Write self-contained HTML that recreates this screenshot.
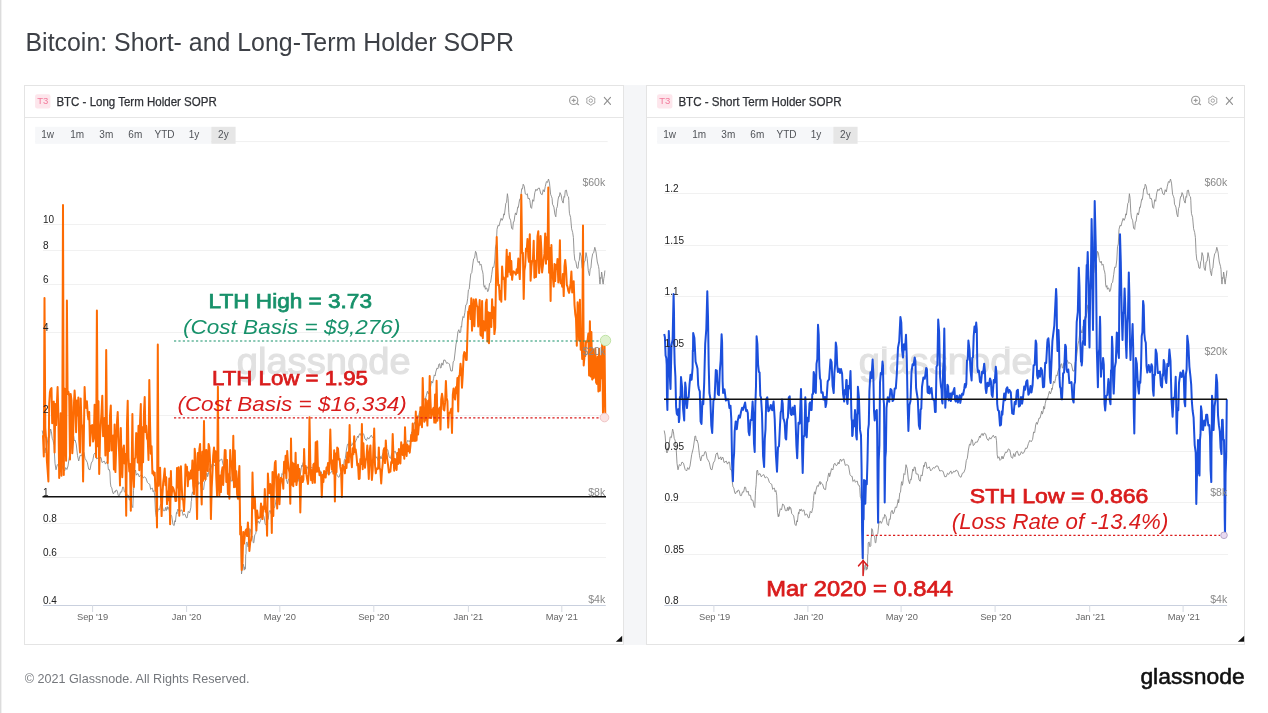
<!DOCTYPE html>
<html><head><meta charset="utf-8"><title>Bitcoin: Short- and Long-Term Holder SOPR</title>
<style>
html,body{margin:0;padding:0;background:#fff;}
body{width:1268px;height:713px;overflow:hidden;position:relative;font-family:"Liberation Sans",Arial,sans-serif;}
#edge{position:absolute;left:0;top:0;width:1px;height:713px;background:#dcdcdc;}
#edge2{position:absolute;left:1px;top:0;width:1px;height:713px;background:#f1f1f1;}
#wrap{position:absolute;left:24px;top:85px;width:1221px;height:560px;background:#f5f6f8;}
.panel{position:absolute;top:85px;height:560px;background:#fff;border:1px solid #e4e4e4;box-sizing:border-box;}
.hdr{position:absolute;left:0;top:0;right:0;height:32px;border-bottom:1px solid #e6e6e6;box-sizing:border-box;}
svg{position:absolute;left:0;top:0;}
text{font-family:"Liberation Sans",Arial,sans-serif;}
.title{font-size:25px;fill:#3d4046;}
.ptitle{font-size:12px;fill:#2f3136;stroke:#2f3136;stroke-width:0.25px;}
.badge{font-size:9.5px;fill:#f27a9b;}
.rng{font-size:10px;fill:#505358;text-anchor:middle;}
.yl{font-size:10px;fill:#222;}
.pl{font-size:10.5px;fill:#888;text-anchor:end;}
.xl{font-size:9.3px;fill:#666;text-anchor:middle;}
.wm{font-size:37px;fill:#e1e1e1;stroke:#e1e1e1;stroke-width:1.1px;}
.ab{font-weight:normal;stroke-width:0.75px;}
.foot{font-size:13px;fill:#74777c;}
.logo{font-size:21.5px;fill:#111;stroke:#111;stroke-width:0.55px;}
</style></head>
<body>
<div id="edge"></div><div id="edge2"></div>
<div id="wrap"></div>
<div class="panel" style="left:24px;width:600px;"><div class="hdr"></div></div>
<div class="panel" style="left:646px;width:599px;"><div class="hdr"></div></div>
<svg width="1268" height="713" viewBox="0 0 1268 713">
<text x="25.5" y="51" class="title" textLength="488.5" lengthAdjust="spacingAndGlyphs">Bitcoin: Short- and Long-Term Holder SOPR</text>
<rect x="35.1" y="94.3" width="15.3" height="14.2" rx="2" fill="#fde6ec"/>
<text x="37.3" y="104.2" class="badge">T3</text>
<text x="56.4" y="106.3" class="ptitle" textLength="160.3" lengthAdjust="spacingAndGlyphs">BTC - Long Term Holder SOPR</text>
<g fill="none" stroke="#9a9a9a" stroke-width="1.1" stroke-linecap="round"><circle cx="573.7" cy="100.4" r="4.1"/><line x1="576.6" y1="103.3" x2="578.6" y2="104.7"/><line x1="572.2" y1="100.4" x2="575.2" y2="100.4"/><line x1="573.7" y1="98.9" x2="573.7" y2="101.9"/></g>
<g fill="none" stroke="#a4a4a4" stroke-width="1.0" stroke-linejoin="round"><polygon points="590.80,95.90 592.75,97.22 594.87,98.25 594.70,100.60 594.87,102.95 592.75,103.98 590.80,105.30 588.85,103.98 586.73,102.95 586.90,100.60 586.73,98.25 588.85,97.22"/><circle cx="590.8" cy="100.6" r="1.7"/></g>
<g stroke="#8f8f8f" stroke-width="1.1" stroke-linecap="round"><line x1="604.3" y1="97.3" x2="610.5" y2="104.3"/><line x1="610.5" y1="97.3" x2="604.3" y2="104.3"/></g>
<line x1="35.0" y1="141.6" x2="607.7" y2="141.6" stroke="#f0f0f0" stroke-width="1"/>
<rect x="35.2" y="126.8" width="176" height="17" fill="#f6f7f9"/>
<rect x="211.3" y="126.8" width="24.3" height="17" fill="#e6e6e6"/>
<text x="47.6" y="138.2" class="rng">1w</text>
<text x="77.2" y="138.2" class="rng">1m</text>
<text x="106.3" y="138.2" class="rng">3m</text>
<text x="135.3" y="138.2" class="rng">6m</text>
<text x="164.5" y="138.2" class="rng">YTD</text>
<text x="194.0" y="138.2" class="rng">1y</text>
<text x="223.4" y="138.2" class="rng">2y</text>
<polygon points="615.8,641.8 622.2,641.8 622.2,635.8" fill="#111"/>
<rect x="657.1" y="94.3" width="15.3" height="14.2" rx="2" fill="#fde6ec"/>
<text x="659.3" y="104.2" class="badge">T3</text>
<text x="678.4" y="106.3" class="ptitle" textLength="163.3" lengthAdjust="spacingAndGlyphs">BTC - Short Term Holder SOPR</text>
<g fill="none" stroke="#9a9a9a" stroke-width="1.1" stroke-linecap="round"><circle cx="1195.7" cy="100.4" r="4.1"/><line x1="1198.6" y1="103.3" x2="1200.6" y2="104.7"/><line x1="1194.2" y1="100.4" x2="1197.2" y2="100.4"/><line x1="1195.7" y1="98.9" x2="1195.7" y2="101.9"/></g>
<g fill="none" stroke="#a4a4a4" stroke-width="1.0" stroke-linejoin="round"><polygon points="1212.80,95.90 1214.75,97.22 1216.87,98.25 1216.70,100.60 1216.87,102.95 1214.75,103.98 1212.80,105.30 1210.85,103.98 1208.73,102.95 1208.90,100.60 1208.73,98.25 1210.85,97.22"/><circle cx="1212.8" cy="100.6" r="1.7"/></g>
<g stroke="#8f8f8f" stroke-width="1.1" stroke-linecap="round"><line x1="1226.3" y1="97.3" x2="1232.5" y2="104.3"/><line x1="1232.5" y1="97.3" x2="1226.3" y2="104.3"/></g>
<line x1="657.0" y1="141.6" x2="1229.7" y2="141.6" stroke="#f0f0f0" stroke-width="1"/>
<rect x="657.2" y="126.8" width="176" height="17" fill="#f6f7f9"/>
<rect x="833.3" y="126.8" width="24.3" height="17" fill="#e6e6e6"/>
<text x="669.6" y="138.2" class="rng">1w</text>
<text x="699.2" y="138.2" class="rng">1m</text>
<text x="728.3" y="138.2" class="rng">3m</text>
<text x="757.3" y="138.2" class="rng">6m</text>
<text x="786.5" y="138.2" class="rng">YTD</text>
<text x="816.0" y="138.2" class="rng">1y</text>
<text x="845.4" y="138.2" class="rng">2y</text>
<polygon points="1237.8,641.8 1244.2,641.8 1244.2,635.8" fill="#111"/>
<text x="236.7" y="373.5" class="wm" textLength="174" lengthAdjust="spacingAndGlyphs">glassnode</text>
<text x="858.7" y="373.5" class="wm" textLength="174" lengthAdjust="spacingAndGlyphs">glassnode</text>
<line x1="43" y1="557.5" x2="606" y2="557.5" stroke="#f1f1f1" stroke-width="1"/>
<line x1="43" y1="523.5" x2="606" y2="523.5" stroke="#f1f1f1" stroke-width="1"/>
<line x1="43" y1="415.5" x2="606" y2="415.5" stroke="#f1f1f1" stroke-width="1"/>
<line x1="43" y1="332.5" x2="606" y2="332.5" stroke="#f1f1f1" stroke-width="1"/>
<line x1="43" y1="284.5" x2="606" y2="284.5" stroke="#f1f1f1" stroke-width="1"/>
<line x1="43" y1="250.5" x2="606" y2="250.5" stroke="#f1f1f1" stroke-width="1"/>
<line x1="43" y1="224.5" x2="606" y2="224.5" stroke="#f1f1f1" stroke-width="1"/>
<line x1="664" y1="554.5" x2="1228" y2="554.5" stroke="#f1f1f1" stroke-width="1"/>
<line x1="664" y1="502.5" x2="1228" y2="502.5" stroke="#f1f1f1" stroke-width="1"/>
<line x1="664" y1="451.5" x2="1228" y2="451.5" stroke="#f1f1f1" stroke-width="1"/>
<line x1="664" y1="348.5" x2="1228" y2="348.5" stroke="#f1f1f1" stroke-width="1"/>
<line x1="664" y1="296.5" x2="1228" y2="296.5" stroke="#f1f1f1" stroke-width="1"/>
<line x1="664" y1="245.5" x2="1228" y2="245.5" stroke="#f1f1f1" stroke-width="1"/>
<line x1="664" y1="193.5" x2="1228" y2="193.5" stroke="#f1f1f1" stroke-width="1"/>
<line x1="43.0" y1="605.5" x2="605.8" y2="605.5" stroke="#c9d0de" stroke-width="1"/>
<line x1="92.6" y1="605" x2="92.6" y2="612" stroke="#d6dae2" stroke-width="1"/>
<line x1="186.6" y1="605" x2="186.6" y2="612" stroke="#d6dae2" stroke-width="1"/>
<line x1="279.8" y1="605" x2="279.8" y2="612" stroke="#d6dae2" stroke-width="1"/>
<line x1="373.8" y1="605" x2="373.8" y2="612" stroke="#d6dae2" stroke-width="1"/>
<line x1="468.4" y1="605" x2="468.4" y2="612" stroke="#d6dae2" stroke-width="1"/>
<line x1="561.8" y1="605" x2="561.8" y2="612" stroke="#d6dae2" stroke-width="1"/>
<line x1="664.3" y1="605.5" x2="1227.1" y2="605.5" stroke="#c9d0de" stroke-width="1"/>
<line x1="713.9" y1="605" x2="713.9" y2="612" stroke="#d6dae2" stroke-width="1"/>
<line x1="807.9" y1="605" x2="807.9" y2="612" stroke="#d6dae2" stroke-width="1"/>
<line x1="901.1" y1="605" x2="901.1" y2="612" stroke="#d6dae2" stroke-width="1"/>
<line x1="995.1" y1="605" x2="995.1" y2="612" stroke="#d6dae2" stroke-width="1"/>
<line x1="1089.7" y1="605" x2="1089.7" y2="612" stroke="#d6dae2" stroke-width="1"/>
<line x1="1183.1" y1="605" x2="1183.1" y2="612" stroke="#d6dae2" stroke-width="1"/>
<path d="M42.2 430.5 L43.1 435.1 L44.1 448.8 L45.0 453.0 L45.7 447.9 L46.3 450.4 L47.0 445.0 L48.2 436.8 L49.4 437.6 L50.6 429.0 L51.4 431.7 L52.2 438.3 L53.0 440.0 L54.0 445.5 L55.0 463.3 L56.0 469.8 L57.3 464.6 L58.7 465.7 L60.0 462.0 L61.5 463.2 L63.1 469.4 L64.6 471.0 L65.7 467.6 L66.9 469.5 L68.0 466.0 L69.7 454.6 L71.3 448.1 L73.0 436.0 L73.7 436.1 L74.3 441.0 L75.0 440.0 L76.2 443.8 L77.5 455.6 L78.7 461.0 L80.1 455.3 L81.6 455.8 L83.0 451.5 L84.0 452.2 L85.0 458.3 L86.0 460.0 L87.3 462.4 L88.7 469.2 L90.0 469.8 L91.3 463.0 L92.7 460.8 L94.0 454.0 L95.3 452.8 L96.7 459.0 L98.0 458.0 L98.7 456.8 L99.3 460.0 L100.0 457.7 L101.0 457.4 L102.0 462.5 L103.0 462.0 L104.2 461.0 L105.5 464.1 L106.7 461.9 L107.6 462.2 L108.4 469.7 L109.3 469.5 L109.9 472.0 L110.4 483.0 L111.0 487.0 L111.8 487.8 L112.7 492.7 L113.5 493.9 L114.3 491.6 L115.2 492.2 L116.0 490.0 L117.1 490.5 L118.3 495.6 L119.4 495.6 L120.5 491.9 L121.6 492.1 L122.7 487.0 L123.6 487.3 L124.4 491.8 L125.3 492.2 L126.1 491.0 L127.0 495.6 L127.8 495.0 L128.5 495.3 L129.3 500.0 L130.0 500.0 L130.9 500.3 L131.9 506.0 L132.8 507.6 L133.5 490.4 L134.1 484.8 L134.8 471.0 L135.5 470.0 L136.3 475.2 L137.0 474.0 L138.1 473.7 L139.3 476.9 L140.4 475.4 L141.8 474.6 L143.2 478.0 L144.6 476.8 L146.0 478.3 L147.4 482.4 L148.8 483.8 L149.7 484.2 L150.7 489.4 L151.6 488.4 L152.4 488.1 L153.1 491.8 L153.9 490.5 L154.7 495.2 L155.5 512.2 L156.3 516.8 L156.6 514.6 L156.9 516.3 L157.2 514.0 L158.3 508.7 L159.5 509.9 L160.6 504.0 L162.0 505.2 L163.4 510.7 L164.8 510.7 L165.5 507.4 L166.2 510.7 L166.9 507.3 L167.3 506.6 L167.8 509.4 L168.2 507.3 L169.0 508.7 L169.7 513.5 L170.5 514.4 L171.7 515.9 L173.0 524.7 L174.2 525.5 L174.8 520.7 L175.4 522.0 L176.0 516.0 L176.5 512.4 L176.9 513.8 L177.4 510.7 L177.9 509.2 L178.3 511.0 L178.8 509.7 L179.5 509.2 L180.1 511.3 L180.8 510.7 L181.9 509.9 L183.1 515.4 L184.2 514.0 L185.1 514.3 L186.1 517.5 L187.0 518.0 L188.3 511.4 L189.6 512.9 L190.9 507.3 L191.2 501.5 L191.5 500.9 L191.8 495.5 L192.5 491.8 L193.3 494.2 L194.0 490.0 L195.2 485.6 L196.4 486.4 L197.6 482.0 L198.0 481.4 L198.5 484.4 L198.9 482.5 L200.5 484.0 L202.0 489.0 L203.6 489.6 L204.5 481.7 L205.4 481.2 L206.3 475.0 L207.0 472.9 L207.6 476.7 L208.3 474.2 L209.5 468.6 L210.8 470.0 L212.0 464.0 L213.1 463.4 L214.3 465.8 L215.4 464.7 L216.2 462.2 L217.0 464.0 L217.8 460.2 L218.6 459.0 L219.4 461.4 L220.2 460.0 L221.8 459.0 L223.3 465.4 L224.9 464.7 L226.5 465.6 L228.0 474.6 L229.6 476.6 L230.2 476.4 L230.9 481.6 L231.5 481.0 L232.5 479.7 L233.4 482.3 L234.4 481.3 L235.3 481.1 L236.1 484.8 L237.0 485.0 L237.7 487.5 L238.3 496.8 L239.0 497.9 L239.5 501.4 L240.0 515.6 L240.5 520.0 L240.8 533.8 L241.2 559.5 L241.5 574.0 L242.0 569.9 L242.5 569.4 L243.0 565.0 L243.5 564.3 L244.1 570.2 L244.6 569.3 L244.9 566.8 L245.2 569.2 L245.5 566.0 L245.7 554.8 L246.0 553.7 L246.2 542.8 L247.1 541.9 L247.9 546.8 L248.8 545.8 L249.1 538.1 L249.4 537.2 L249.7 528.6 L250.5 529.7 L251.2 535.3 L252.0 536.0 L252.6 536.0 L253.2 542.7 L253.8 542.8 L254.8 534.6 L255.8 533.8 L256.8 523.9 L258.1 520.9 L259.3 523.4 L260.6 520.5 L261.3 517.6 L262.0 518.3 L262.7 514.4 L264.0 516.7 L265.2 524.3 L266.5 525.6 L267.3 519.0 L268.2 519.4 L269.0 512.0 L270.1 510.3 L271.1 513.9 L272.2 512.0 L273.4 507.0 L274.6 507.6 L275.8 502.0 L276.2 499.5 L276.6 502.9 L277.0 500.2 L277.8 492.8 L278.5 492.3 L279.3 483.7 L279.8 481.6 L280.3 485.3 L280.8 483.5 L281.9 473.6 L282.9 474.6 L284.0 464.7 L285.2 468.6 L286.4 479.9 L287.6 483.7 L288.4 479.2 L289.2 479.9 L290.0 474.0 L290.8 469.0 L291.5 471.1 L292.3 467.0 L293.2 467.2 L294.1 473.9 L295.0 474.0 L296.1 474.2 L297.1 480.0 L298.2 481.3 L299.1 474.9 L300.1 476.0 L301.0 470.0 L301.7 465.3 L302.3 466.6 L303.0 462.4 L304.0 462.3 L305.0 468.4 L306.0 468.0 L307.3 466.8 L308.7 470.9 L310.0 469.5 L311.3 467.5 L312.7 468.2 L314.0 466.0 L315.8 466.0 L317.7 471.0 L319.5 470.6 L321.1 471.4 L322.7 476.7 L324.3 476.6 L325.5 473.2 L326.8 474.4 L328.0 472.0 L328.9 470.9 L329.7 473.7 L330.6 473.0 L331.7 471.2 L332.9 472.0 L334.0 470.0 L335.7 471.0 L337.3 476.1 L339.0 477.3 L340.4 473.2 L341.8 472.6 L343.2 468.9 L344.3 460.3 L345.3 458.4 L346.4 450.0 L347.5 444.2 L348.5 445.1 L349.6 439.4 L350.4 440.0 L351.2 445.6 L352.0 445.0 L353.6 442.0 L355.3 442.2 L356.9 438.4 L357.6 436.0 L358.3 437.6 L359.0 435.0 L360.1 433.4 L361.1 435.7 L362.2 433.0 L363.6 433.9 L365.0 438.9 L366.4 440.5 L367.6 437.5 L368.8 439.1 L370.0 437.0 L371.3 435.2 L372.5 437.7 L373.8 436.2 L374.5 440.8 L375.2 454.8 L375.9 458.3 L376.9 456.7 L378.0 460.4 L379.0 459.4 L380.0 456.1 L381.0 459.0 L382.0 456.0 L383.5 452.1 L384.9 452.4 L386.4 448.9 L387.8 449.9 L389.2 457.2 L390.6 458.3 L391.7 453.6 L392.9 456.7 L394.0 452.0 L395.3 451.2 L396.7 455.3 L398.0 455.0 L399.4 451.7 L400.8 453.7 L402.2 452.0 L403.6 448.1 L405.0 448.4 L406.4 443.6 L407.8 440.3 L409.2 441.8 L410.6 439.4 L411.6 432.0 L412.7 432.7 L413.7 424.7 L414.5 422.4 L415.2 424.4 L416.0 422.0 L417.0 418.1 L418.0 418.2 L419.0 414.2 L419.7 411.1 L420.3 414.1 L421.0 412.0 L421.7 406.4 L422.5 409.1 L423.2 403.6 L424.3 398.7 L425.3 399.4 L426.4 395.2 L427.4 391.3 L428.4 394.0 L429.4 391.0 L429.8 388.1 L430.2 389.5 L430.6 386.8 L431.6 381.2 L432.6 383.1 L433.6 378.4 L434.3 374.9 L435.1 375.9 L435.8 372.0 L436.9 368.2 L437.9 368.8 L439.0 364.0 L439.7 363.8 L440.3 367.9 L441.0 368.0 L441.9 362.9 L442.9 365.2 L443.8 360.0 L445.2 360.2 L446.6 363.4 L448.0 362.7 L449.4 364.1 L450.9 371.0 L452.3 371.0 L453.2 361.9 L454.1 360.7 L455.0 353.0 L456.0 344.1 L456.9 340.5 L457.9 331.9 L458.8 329.7 L459.8 333.0 L460.7 331.9 L461.1 326.4 L461.6 327.2 L462.0 322.0 L463.0 316.5 L463.9 317.7 L464.9 312.3 L465.8 304.9 L466.8 304.2 L467.7 298.2 L468.4 289.9 L469.2 289.2 L469.9 282.0 L470.8 273.9 L471.8 272.6 L472.7 265.0 L473.6 258.8 L474.6 258.1 L475.5 251.3 L476.4 253.1 L477.4 260.5 L478.3 262.6 L479.2 261.2 L480.1 265.3 L481.0 264.2 L481.5 265.6 L482.0 270.0 L482.5 271.0 L483.1 274.3 L483.7 285.2 L484.3 287.3 L484.9 285.5 L485.4 289.3 L486.0 288.0 L486.8 288.1 L487.7 291.7 L488.5 290.5 L489.6 283.2 L490.6 282.4 L491.7 274.7 L492.7 267.1 L493.8 267.4 L494.8 260.0 L495.5 246.8 L496.3 244.0 L497.0 229.4 L498.0 225.3 L499.0 226.1 L500.0 222.0 L501.1 218.4 L502.1 220.4 L503.2 217.9 L503.8 213.8 L504.4 215.1 L505.0 210.0 L505.8 203.4 L506.6 202.2 L507.4 193.7 L508.1 198.5 L508.8 212.3 L509.5 217.9 L510.6 220.2 L511.6 228.2 L512.7 229.4 L513.4 221.8 L514.1 221.6 L514.8 215.8 L515.5 212.9 L516.3 215.0 L517.0 212.0 L517.7 207.1 L518.3 207.6 L519.0 203.1 L519.7 199.2 L520.3 199.7 L521.0 195.0 L521.7 188.7 L522.5 188.9 L523.2 184.2 L524.3 186.3 L525.3 193.9 L526.4 194.7 L527.3 193.7 L528.1 198.8 L529.0 198.0 L529.9 200.5 L530.7 207.4 L531.6 208.4 L532.7 199.7 L533.7 201.3 L534.8 192.6 L535.9 189.2 L536.9 190.6 L538.0 188.4 L539.4 188.1 L540.8 193.8 L542.2 194.7 L543.2 189.7 L544.3 191.9 L545.3 186.3 L546.4 181.6 L547.4 182.5 L548.5 179.0 L549.5 183.1 L550.6 194.3 L551.6 196.8 L552.1 198.4 L552.5 204.3 L553.0 205.0 L553.9 207.1 L554.9 214.2 L555.8 216.8 L556.5 208.6 L557.3 206.8 L558.0 200.0 L558.7 196.5 L559.3 196.6 L560.0 192.6 L561.1 195.0 L562.1 200.6 L563.2 203.1 L563.9 196.6 L564.6 197.3 L565.3 190.5 L566.4 190.1 L567.4 195.8 L568.5 196.8 L568.8 200.3 L569.2 209.9 L569.5 213.7 L570.6 217.3 L571.6 228.7 L572.7 232.6 L573.4 237.5 L574.1 253.3 L574.8 260.0 L575.9 261.8 L576.9 267.9 L578.0 268.4 L578.7 261.7 L579.3 260.4 L580.0 252.6 L581.1 256.2 L582.1 267.9 L583.2 270.5 L584.1 262.0 L585.1 261.2 L586.0 252.6 L587.2 258.3 L588.3 270.8 L589.5 275.7 L590.2 268.8 L590.9 268.1 L591.6 260.0 L592.7 253.6 L593.7 252.8 L594.8 247.3 L596.0 251.9 L597.3 262.0 L598.5 266.3 L599.0 269.3 L599.5 279.7 L600.0 284.1 L600.5 277.5 L601.1 278.4 L601.6 272.0 L602.1 274.9 L602.7 282.5 L603.2 284.1 L603.8 278.4 L604.3 276.3 L604.9 270.5" fill="none" stroke="#8a8a8a" stroke-width="0.9" stroke-linejoin="round"/>
<path d="M664.2 430.5 L665.1 435.1 L666.1 448.8 L667.0 453.0 L667.7 447.9 L668.3 450.4 L669.0 445.0 L670.2 436.8 L671.4 437.6 L672.6 429.0 L673.4 431.7 L674.2 438.3 L675.0 440.0 L676.0 445.5 L677.0 463.3 L678.0 469.8 L679.3 464.6 L680.7 465.7 L682.0 462.0 L683.5 463.2 L685.1 469.4 L686.6 471.0 L687.7 467.6 L688.9 469.5 L690.0 466.0 L691.7 454.6 L693.3 448.1 L695.0 436.0 L695.7 436.1 L696.3 441.0 L697.0 440.0 L698.2 443.8 L699.5 455.6 L700.7 461.0 L702.1 455.3 L703.6 455.8 L705.0 451.5 L706.0 452.2 L707.0 458.3 L708.0 460.0 L709.3 462.4 L710.7 469.2 L712.0 469.8 L713.3 463.0 L714.7 460.8 L716.0 454.0 L717.3 452.8 L718.7 459.0 L720.0 458.0 L720.7 456.8 L721.3 460.0 L722.0 457.7 L723.0 457.4 L724.0 462.5 L725.0 462.0 L726.2 461.0 L727.5 464.1 L728.7 461.9 L729.6 462.2 L730.4 469.7 L731.3 469.5 L731.9 472.0 L732.4 483.0 L733.0 487.0 L733.8 487.8 L734.7 492.7 L735.5 493.9 L736.3 491.6 L737.2 492.2 L738.0 490.0 L739.1 490.5 L740.3 495.6 L741.4 495.6 L742.5 491.9 L743.6 492.1 L744.7 487.0 L745.6 487.3 L746.4 491.8 L747.3 492.2 L748.1 491.0 L749.0 495.6 L749.8 495.0 L750.5 495.3 L751.3 500.0 L752.0 500.0 L752.9 500.3 L753.9 506.0 L754.8 507.6 L755.5 490.4 L756.1 484.8 L756.8 471.0 L757.5 470.0 L758.3 475.2 L759.0 474.0 L760.1 473.7 L761.3 476.9 L762.4 475.4 L763.8 474.6 L765.2 478.0 L766.6 476.8 L768.0 478.3 L769.4 482.4 L770.8 483.8 L771.7 484.2 L772.7 489.4 L773.6 488.4 L774.4 488.1 L775.1 491.8 L775.9 490.5 L776.7 495.2 L777.5 512.2 L778.3 516.8 L778.6 514.6 L778.9 516.3 L779.2 514.0 L780.3 508.7 L781.5 509.9 L782.6 504.0 L784.0 505.2 L785.4 510.7 L786.8 510.7 L787.5 507.4 L788.2 510.7 L788.9 507.3 L789.3 506.6 L789.8 509.4 L790.2 507.3 L791.0 508.7 L791.7 513.5 L792.5 514.4 L793.7 515.9 L795.0 524.7 L796.2 525.5 L796.8 520.7 L797.4 522.0 L798.0 516.0 L798.5 512.4 L798.9 513.8 L799.4 510.7 L799.9 509.2 L800.3 511.0 L800.8 509.7 L801.5 509.2 L802.1 511.3 L802.8 510.7 L803.9 509.9 L805.1 515.4 L806.2 514.0 L807.1 514.3 L808.1 517.5 L809.0 518.0 L810.3 511.4 L811.6 512.9 L812.9 507.3 L813.2 501.5 L813.5 500.9 L813.8 495.5 L814.5 491.8 L815.3 494.2 L816.0 490.0 L817.2 485.6 L818.4 486.4 L819.6 482.0 L820.0 481.4 L820.5 484.4 L820.9 482.5 L822.5 484.0 L824.0 489.0 L825.6 489.6 L826.5 481.7 L827.4 481.2 L828.3 475.0 L829.0 472.9 L829.6 476.7 L830.3 474.2 L831.5 468.6 L832.8 470.0 L834.0 464.0 L835.1 463.4 L836.3 465.8 L837.4 464.7 L838.2 462.2 L839.0 464.0 L839.8 460.2 L840.6 459.0 L841.4 461.4 L842.2 460.0 L843.8 459.0 L845.3 465.4 L846.9 464.7 L848.5 465.6 L850.0 474.6 L851.6 476.6 L852.2 476.4 L852.9 481.6 L853.5 481.0 L854.5 479.7 L855.4 482.3 L856.4 481.3 L857.3 481.1 L858.1 484.8 L859.0 485.0 L859.7 487.5 L860.3 496.8 L861.0 497.9 L861.5 501.4 L862.0 515.6 L862.5 520.0 L862.8 533.8 L863.2 559.5 L863.5 574.0 L864.0 569.9 L864.5 569.4 L865.0 565.0 L865.5 564.3 L866.1 570.2 L866.6 569.3 L866.9 566.8 L867.2 569.2 L867.5 566.0 L867.7 554.8 L868.0 553.7 L868.2 542.8 L869.1 541.9 L869.9 546.8 L870.8 545.8 L871.1 538.1 L871.4 537.2 L871.7 528.6 L872.5 529.7 L873.2 535.3 L874.0 536.0 L874.6 536.0 L875.2 542.7 L875.8 542.8 L876.8 534.6 L877.8 533.8 L878.8 523.9 L880.1 520.9 L881.3 523.4 L882.6 520.5 L883.3 517.6 L884.0 518.3 L884.7 514.4 L886.0 516.7 L887.2 524.3 L888.5 525.6 L889.3 519.0 L890.2 519.4 L891.0 512.0 L892.1 510.3 L893.1 513.9 L894.2 512.0 L895.4 507.0 L896.6 507.6 L897.8 502.0 L898.2 499.5 L898.6 502.9 L899.0 500.2 L899.8 492.8 L900.5 492.3 L901.3 483.7 L901.8 481.6 L902.3 485.3 L902.8 483.5 L903.9 473.6 L904.9 474.6 L906.0 464.7 L907.2 468.6 L908.4 479.9 L909.6 483.7 L910.4 479.2 L911.2 479.9 L912.0 474.0 L912.8 469.0 L913.5 471.1 L914.3 467.0 L915.2 467.2 L916.1 473.9 L917.0 474.0 L918.1 474.2 L919.1 480.0 L920.2 481.3 L921.1 474.9 L922.1 476.0 L923.0 470.0 L923.7 465.3 L924.3 466.6 L925.0 462.4 L926.0 462.3 L927.0 468.4 L928.0 468.0 L929.3 466.8 L930.7 470.9 L932.0 469.5 L933.3 467.5 L934.7 468.2 L936.0 466.0 L937.8 466.0 L939.7 471.0 L941.5 470.6 L943.1 471.4 L944.7 476.7 L946.3 476.6 L947.5 473.2 L948.8 474.4 L950.0 472.0 L950.9 470.9 L951.7 473.7 L952.6 473.0 L953.7 471.2 L954.9 472.0 L956.0 470.0 L957.7 471.0 L959.3 476.1 L961.0 477.3 L962.4 473.2 L963.8 472.6 L965.2 468.9 L966.3 460.3 L967.3 458.4 L968.4 450.0 L969.5 444.2 L970.5 445.1 L971.6 439.4 L972.4 440.0 L973.2 445.6 L974.0 445.0 L975.6 442.0 L977.3 442.2 L978.9 438.4 L979.6 436.0 L980.3 437.6 L981.0 435.0 L982.1 433.4 L983.1 435.7 L984.2 433.0 L985.6 433.9 L987.0 438.9 L988.4 440.5 L989.6 437.5 L990.8 439.1 L992.0 437.0 L993.3 435.2 L994.5 437.7 L995.8 436.2 L996.5 440.8 L997.2 454.8 L997.9 458.3 L998.9 456.7 L1000.0 460.4 L1001.0 459.4 L1002.0 456.1 L1003.0 459.0 L1004.0 456.0 L1005.5 452.1 L1006.9 452.4 L1008.4 448.9 L1009.8 449.9 L1011.2 457.2 L1012.6 458.3 L1013.7 453.6 L1014.9 456.7 L1016.0 452.0 L1017.3 451.2 L1018.7 455.3 L1020.0 455.0 L1021.4 451.7 L1022.8 453.7 L1024.2 452.0 L1025.6 448.1 L1027.0 448.4 L1028.4 443.6 L1029.8 440.3 L1031.2 441.8 L1032.6 439.4 L1033.6 432.0 L1034.7 432.7 L1035.7 424.7 L1036.5 422.4 L1037.2 424.4 L1038.0 422.0 L1039.0 418.1 L1040.0 418.2 L1041.0 414.2 L1041.7 411.1 L1042.3 414.1 L1043.0 412.0 L1043.7 406.4 L1044.5 409.1 L1045.2 403.6 L1046.3 398.7 L1047.3 399.4 L1048.4 395.2 L1049.4 391.3 L1050.4 394.0 L1051.4 391.0 L1051.8 388.1 L1052.2 389.5 L1052.6 386.8 L1053.6 381.2 L1054.6 383.1 L1055.6 378.4 L1056.3 374.9 L1057.1 375.9 L1057.8 372.0 L1058.9 368.2 L1059.9 368.8 L1061.0 364.0 L1061.7 363.8 L1062.3 367.9 L1063.0 368.0 L1063.9 362.9 L1064.9 365.2 L1065.8 360.0 L1067.2 360.2 L1068.6 363.4 L1070.0 362.7 L1071.4 364.1 L1072.9 371.0 L1074.3 371.0 L1075.2 361.9 L1076.1 360.7 L1077.0 353.0 L1078.0 344.1 L1078.9 340.5 L1079.9 331.9 L1080.8 329.7 L1081.8 333.0 L1082.7 331.9 L1083.1 326.4 L1083.6 327.2 L1084.0 322.0 L1085.0 316.5 L1085.9 317.7 L1086.9 312.3 L1087.8 304.9 L1088.8 304.2 L1089.7 298.2 L1090.4 289.9 L1091.2 289.2 L1091.9 282.0 L1092.8 273.9 L1093.8 272.6 L1094.7 265.0 L1095.6 258.8 L1096.6 258.1 L1097.5 251.3 L1098.4 253.1 L1099.4 260.5 L1100.3 262.6 L1101.2 261.2 L1102.1 265.3 L1103.0 264.2 L1103.5 265.6 L1104.0 270.0 L1104.5 271.0 L1105.1 274.3 L1105.7 285.2 L1106.3 287.3 L1106.9 285.5 L1107.4 289.3 L1108.0 288.0 L1108.8 288.1 L1109.7 291.7 L1110.5 290.5 L1111.6 283.2 L1112.6 282.4 L1113.7 274.7 L1114.7 267.1 L1115.8 267.4 L1116.8 260.0 L1117.5 246.8 L1118.3 244.0 L1119.0 229.4 L1120.0 225.3 L1121.0 226.1 L1122.0 222.0 L1123.1 218.4 L1124.1 220.4 L1125.2 217.9 L1125.8 213.8 L1126.4 215.1 L1127.0 210.0 L1127.8 203.4 L1128.6 202.2 L1129.4 193.7 L1130.1 198.5 L1130.8 212.3 L1131.5 217.9 L1132.6 220.2 L1133.6 228.2 L1134.7 229.4 L1135.4 221.8 L1136.1 221.6 L1136.8 215.8 L1137.5 212.9 L1138.3 215.0 L1139.0 212.0 L1139.7 207.1 L1140.3 207.6 L1141.0 203.1 L1141.7 199.2 L1142.3 199.7 L1143.0 195.0 L1143.7 188.7 L1144.5 188.9 L1145.2 184.2 L1146.3 186.3 L1147.3 193.9 L1148.4 194.7 L1149.3 193.7 L1150.1 198.8 L1151.0 198.0 L1151.9 200.5 L1152.7 207.4 L1153.6 208.4 L1154.7 199.7 L1155.7 201.3 L1156.8 192.6 L1157.9 189.2 L1158.9 190.6 L1160.0 188.4 L1161.4 188.1 L1162.8 193.8 L1164.2 194.7 L1165.2 189.7 L1166.3 191.9 L1167.3 186.3 L1168.4 181.6 L1169.4 182.5 L1170.5 179.0 L1171.5 183.1 L1172.6 194.3 L1173.6 196.8 L1174.1 198.4 L1174.5 204.3 L1175.0 205.0 L1175.9 207.1 L1176.9 214.2 L1177.8 216.8 L1178.5 208.6 L1179.3 206.8 L1180.0 200.0 L1180.7 196.5 L1181.3 196.6 L1182.0 192.6 L1183.1 195.0 L1184.1 200.6 L1185.2 203.1 L1185.9 196.6 L1186.6 197.3 L1187.3 190.5 L1188.4 190.1 L1189.4 195.8 L1190.5 196.8 L1190.8 200.3 L1191.2 209.9 L1191.5 213.7 L1192.6 217.3 L1193.6 228.7 L1194.7 232.6 L1195.4 237.5 L1196.1 253.3 L1196.8 260.0 L1197.9 261.8 L1198.9 267.9 L1200.0 268.4 L1200.7 261.7 L1201.3 260.4 L1202.0 252.6 L1203.1 256.2 L1204.1 267.9 L1205.2 270.5 L1206.1 262.0 L1207.1 261.2 L1208.0 252.6 L1209.2 258.3 L1210.3 270.8 L1211.5 275.7 L1212.2 268.8 L1212.9 268.1 L1213.6 260.0 L1214.7 253.6 L1215.7 252.8 L1216.8 247.3 L1218.0 251.9 L1219.3 262.0 L1220.5 266.3 L1221.0 269.3 L1221.5 279.7 L1222.0 284.1 L1222.5 277.5 L1223.1 278.4 L1223.6 272.0 L1224.1 274.9 L1224.7 282.5 L1225.2 284.1 L1225.8 278.4 L1226.3 276.3 L1226.9 270.5" fill="none" stroke="#8a8a8a" stroke-width="0.9" stroke-linejoin="round"/>
<path d="M43.0 435.2 L43.8 456.5 L44.5 298.0 L45.3 428.0 L46.1 438.8 L46.9 460.8 L47.6 469.8 L48.4 481.5 L49.2 403.7 L49.9 392.3 L50.7 389.1 L51.5 388.0 L52.2 423.3 L53.0 401.9 L53.8 401.6 L54.6 452.6 L55.3 403.9 L56.1 425.1 L56.9 403.6 L57.6 387.0 L58.4 416.4 L59.2 478.0 L59.9 458.1 L60.7 413.2 L61.5 475.8 L62.3 429.7 L63.0 205.0 L63.8 475.1 L64.6 388.8 L65.3 420.6 L66.1 460.7 L66.9 300.5 L67.6 393.9 L68.4 391.8 L69.2 396.0 L70.0 459.6 L70.7 394.0 L71.5 400.6 L72.3 453.2 L73.0 442.2 L73.8 407.1 L74.6 390.5 L75.4 403.8 L76.1 432.3 L76.9 400.6 L77.7 415.6 L78.4 397.4 L79.2 439.6 L80.0 452.4 L80.7 398.5 L81.5 424.3 L82.3 425.9 L83.1 481.5 L83.8 439.4 L84.6 387.0 L85.4 405.6 L86.1 408.1 L86.9 401.3 L87.7 413.9 L88.4 419.3 L89.2 411.9 L90.0 445.7 L90.8 430.7 L91.5 425.5 L92.3 425.0 L93.1 441.6 L93.8 438.2 L94.6 404.7 L95.4 415.1 L96.1 457.2 L96.9 310.5 L97.7 446.2 L98.5 401.3 L99.2 474.0 L100.0 438.7 L100.8 423.8 L101.5 412.9 L102.3 395.7 L103.1 436.3 L103.9 420.9 L104.6 418.0 L105.4 455.4 L106.2 350.0 L106.9 424.5 L107.7 463.0 L108.5 425.7 L109.2 451.1 L110.0 415.8 L110.8 405.4 L111.6 450.4 L112.3 442.8 L113.1 435.5 L113.9 469.5 L114.6 424.4 L115.4 472.1 L116.2 447.2 L116.9 423.7 L117.7 412.0 L118.5 436.3 L119.3 458.0 L120.0 485.5 L120.8 427.9 L121.6 462.9 L122.3 477.2 L123.1 449.9 L123.9 445.4 L124.6 463.5 L125.4 454.1 L126.2 515.8 L127.0 423.5 L127.7 400.8 L128.5 457.6 L129.3 471.5 L130.0 464.0 L130.8 510.7 L131.6 474.9 L132.4 414.0 L133.1 470.2 L133.9 487.0 L134.7 458.6 L135.4 457.9 L136.2 433.1 L137.0 434.0 L137.7 462.4 L138.5 425.8 L139.3 470.3 L140.1 420.2 L140.8 404.0 L141.6 489.6 L142.4 427.3 L143.1 462.2 L143.9 414.4 L144.7 397.0 L145.4 432.1 L146.2 425.8 L147.0 438.4 L147.8 440.3 L148.5 460.0 L149.3 380.0 L150.1 425.3 L150.8 453.8 L151.6 446.2 L152.4 473.4 L153.1 471.2 L153.9 475.4 L154.7 472.6 L155.5 490.7 L156.2 486.9 L157.0 527.5 L157.8 344.6 L158.5 485.8 L159.3 475.3 L160.1 467.8 L160.9 494.7 L161.6 516.1 L162.4 495.2 L163.2 482.4 L163.9 477.1 L164.7 468.5 L165.5 485.2 L166.2 477.2 L167.0 504.1 L167.8 491.7 L168.6 500.3 L169.3 478.4 L170.1 524.2 L170.9 471.0 L171.6 496.2 L172.4 486.9 L173.2 488.0 L173.9 490.3 L174.7 494.5 L175.5 501.1 L176.3 500.9 L177.0 467.9 L177.8 487.5 L178.6 467.3 L179.3 515.8 L180.1 480.4 L180.9 466.3 L181.6 483.7 L182.4 499.4 L183.2 500.0 L184.0 511.1 L184.7 497.1 L185.5 464.4 L186.3 475.6 L187.0 466.7 L187.8 486.2 L188.6 472.3 L189.4 479.2 L190.1 478.6 L190.9 470.6 L191.7 478.4 L192.4 460.5 L193.2 485.7 L194.0 494.2 L194.7 448.8 L195.5 458.8 L196.3 488.2 L197.1 519.1 L197.8 453.0 L198.6 470.1 L199.4 448.8 L200.1 444.0 L200.9 479.9 L201.7 504.5 L202.4 451.8 L203.2 480.8 L204.0 421.0 L204.8 478.0 L205.5 479.4 L206.3 449.9 L207.1 461.0 L207.8 471.1 L208.6 444.0 L209.4 447.7 L210.1 461.7 L210.9 519.1 L211.7 488.3 L212.5 472.0 L213.2 455.8 L214.0 447.6 L214.8 461.9 L215.5 451.3 L216.3 477.9 L217.1 495.8 L217.9 386.8 L218.6 479.6 L219.4 495.3 L220.2 475.4 L220.9 492.1 L221.7 472.2 L222.5 467.3 L223.2 484.9 L224.0 467.5 L224.8 449.9 L225.6 450.3 L226.3 481.9 L227.1 460.1 L227.9 494.1 L228.6 474.5 L229.4 498.8 L230.2 450.0 L230.9 464.4 L231.7 461.5 L232.5 479.7 L233.3 435.8 L234.0 487.2 L234.8 450.5 L235.6 486.7 L236.3 471.2 L237.1 494.0 L237.9 498.7 L238.6 478.4 L239.4 465.9 L240.2 534.5 L241.0 526.7 L241.7 570.0 L242.5 562.1 L243.3 531.9 L244.0 543.6 L244.8 535.8 L245.6 530.6 L246.4 529.4 L247.1 536.1 L247.9 522.5 L248.7 534.2 L249.4 551.0 L250.2 542.1 L251.0 540.2 L251.7 533.7 L252.5 472.5 L253.3 506.1 L254.1 508.5 L254.8 496.8 L255.6 515.9 L256.4 530.5 L257.1 510.6 L257.9 516.9 L258.7 518.1 L259.4 517.6 L260.2 517.4 L261.0 503.5 L261.8 513.1 L262.5 519.1 L263.3 506.2 L264.1 508.9 L264.8 489.1 L265.6 511.8 L266.4 510.7 L267.1 535.7 L267.9 473.6 L268.7 488.8 L269.5 493.2 L270.2 483.9 L271.0 489.1 L271.8 533.0 L272.5 471.9 L273.3 516.1 L274.1 477.9 L274.9 462.9 L275.6 461.0 L276.4 486.0 L277.2 508.6 L277.9 477.8 L278.7 474.3 L279.5 504.3 L280.2 486.7 L281.0 477.7 L281.8 481.2 L282.6 479.2 L283.3 488.8 L284.1 461.7 L284.9 472.8 L285.6 455.8 L286.4 478.1 L287.2 451.0 L287.9 461.3 L288.7 468.6 L289.5 472.7 L290.3 503.7 L291.0 438.6 L291.8 484.7 L292.6 462.8 L293.3 486.3 L294.1 464.1 L294.9 481.5 L295.6 452.7 L296.4 485.1 L297.2 479.3 L298.0 464.8 L298.7 477.9 L299.5 468.9 L300.3 512.6 L301.0 482.7 L301.8 476.3 L302.6 482.1 L303.4 479.6 L304.1 448.9 L304.9 472.9 L305.7 466.1 L306.4 474.4 L307.2 479.6 L308.0 484.0 L308.7 474.4 L309.5 417.2 L310.3 463.4 L311.1 480.3 L311.8 470.2 L312.6 483.0 L313.4 464.6 L314.1 463.6 L314.9 482.8 L315.7 442.3 L316.4 471.7 L317.2 441.3 L318.0 471.6 L318.8 467.8 L319.5 475.2 L320.3 472.5 L321.1 475.9 L321.8 497.0 L322.6 474.9 L323.4 482.0 L324.1 471.0 L324.9 475.7 L325.7 477.5 L326.5 467.6 L327.2 470.7 L328.0 463.1 L328.8 474.4 L329.5 461.6 L330.3 429.6 L331.1 458.8 L331.9 469.6 L332.6 460.4 L333.4 473.6 L334.2 450.2 L334.9 501.4 L335.7 453.4 L336.5 472.1 L337.2 447.5 L338.0 448.6 L338.8 459.6 L339.6 458.9 L340.3 466.9 L341.1 471.2 L341.9 497.0 L342.6 464.9 L343.4 466.7 L344.2 467.1 L344.9 473.3 L345.7 460.2 L346.5 468.0 L347.3 452.4 L348.0 462.0 L348.8 462.4 L349.6 425.0 L350.3 453.3 L351.1 457.8 L351.9 467.2 L352.7 448.2 L353.4 454.3 L354.2 436.2 L355.0 451.9 L355.7 449.5 L356.5 456.0 L357.3 465.3 L358.0 463.6 L358.8 479.0 L359.6 478.6 L360.4 459.0 L361.1 464.0 L361.9 424.0 L362.7 469.2 L363.4 443.3 L364.2 461.2 L365.0 467.8 L365.7 460.7 L366.5 457.2 L367.3 445.4 L368.1 464.4 L368.8 479.0 L369.6 451.9 L370.4 445.4 L371.1 463.6 L371.9 479.9 L372.7 469.6 L373.4 448.4 L374.2 428.5 L375.0 465.0 L375.8 473.3 L376.5 468.6 L377.3 469.1 L378.1 468.5 L378.8 447.4 L379.6 467.8 L380.4 470.0 L381.2 483.5 L381.9 471.6 L382.7 463.8 L383.5 450.6 L384.2 448.2 L385.0 463.1 L385.8 440.4 L386.5 452.9 L387.3 459.6 L388.1 465.3 L388.9 472.5 L389.6 471.0 L390.4 471.6 L391.2 462.0 L391.9 462.9 L392.7 434.1 L393.5 457.0 L394.2 470.7 L395.0 458.9 L395.8 466.2 L396.6 470.0 L397.3 452.9 L398.1 463.9 L398.9 449.0 L399.6 462.1 L400.4 463.4 L401.2 442.3 L401.9 451.0 L402.7 455.1 L403.5 444.8 L404.3 458.7 L405.0 427.3 L405.8 449.8 L406.6 455.9 L407.3 444.6 L408.1 451.1 L408.9 446.2 L409.7 452.7 L410.4 446.0 L411.2 434.9 L412.0 441.0 L412.7 423.5 L413.5 440.7 L414.3 430.2 L415.0 441.0 L415.8 411.6 L416.6 440.4 L417.4 416.5 L418.1 434.4 L418.9 424.3 L419.7 425.1 L420.4 407.3 L421.2 415.8 L422.0 427.3 L422.7 378.0 L423.5 406.7 L424.3 421.7 L425.1 420.1 L425.8 399.2 L426.6 411.5 L427.4 425.6 L428.1 400.8 L428.9 417.8 L429.7 376.1 L430.4 399.0 L431.2 418.1 L432.0 414.4 L432.8 409.3 L433.5 407.8 L434.3 422.6 L435.1 394.4 L435.8 422.7 L436.6 380.8 L437.4 420.8 L438.2 409.2 L438.9 410.8 L439.7 407.6 L440.5 429.6 L441.2 399.3 L442.0 393.8 L442.8 399.0 L443.5 409.5 L444.3 410.5 L445.1 402.4 L445.9 381.1 L446.6 397.9 L447.4 401.0 L448.2 427.6 L448.9 413.4 L449.7 412.9 L450.5 411.5 L451.2 408.7 L452.0 433.0 L452.8 394.9 L453.6 388.4 L454.3 395.4 L455.1 399.6 L455.9 387.2 L456.6 393.2 L457.4 378.1 L458.2 411.6 L458.9 376.3 L459.7 375.2 L460.5 363.7 L461.3 371.5 L462.0 387.7 L462.8 374.1 L463.6 355.4 L464.3 352.1 L465.1 353.1 L465.9 359.9 L466.7 360.0 L467.4 335.6 L468.2 311.5 L469.0 310.5 L469.7 306.1 L470.5 319.1 L471.3 298.3 L472.0 330.7 L472.8 316.3 L473.6 299.5 L474.4 326.2 L475.1 305.8 L475.9 299.2 L476.7 305.5 L477.4 307.0 L478.2 326.5 L479.0 311.4 L479.7 300.1 L480.5 334.9 L481.3 335.7 L482.1 301.0 L482.8 338.2 L483.6 321.2 L484.4 324.3 L485.1 330.6 L485.9 302.9 L486.7 299.6 L487.4 341.6 L488.2 312.2 L489.0 343.2 L489.8 312.7 L490.5 320.7 L491.3 326.9 L492.1 299.2 L492.8 317.9 L493.6 307.3 L494.4 334.1 L495.2 327.6 L495.9 286.2 L496.7 237.0 L497.5 267.7 L498.2 285.3 L499.0 284.9 L499.8 299.6 L500.5 291.0 L501.3 301.8 L502.1 266.4 L502.9 279.0 L503.6 277.4 L504.4 280.1 L505.2 299.6 L505.9 274.5 L506.7 249.7 L507.5 276.6 L508.2 256.7 L509.0 271.7 L509.8 252.9 L510.6 274.7 L511.3 261.0 L512.1 279.8 L512.9 272.6 L513.6 271.3 L514.4 272.4 L515.2 273.0 L515.9 274.7 L516.7 269.2 L517.5 272.9 L518.3 258.5 L519.0 269.5 L519.8 279.1 L520.6 251.2 L521.3 194.7 L522.1 252.7 L522.9 252.7 L523.7 299.0 L524.4 270.7 L525.2 265.7 L526.0 248.6 L526.7 250.7 L527.5 238.9 L528.3 257.0 L529.0 261.8 L529.8 234.2 L530.6 280.8 L531.4 266.6 L532.1 261.0 L532.9 260.8 L533.7 240.8 L534.4 277.8 L535.2 260.8 L536.0 276.9 L536.7 264.9 L537.5 236.4 L538.3 231.2 L539.1 273.1 L539.8 266.7 L540.6 236.0 L541.4 249.8 L542.1 272.5 L542.9 265.6 L543.7 259.7 L544.4 253.9 L545.2 233.4 L546.0 263.8 L546.8 237.0 L547.5 259.3 L548.3 187.6 L549.1 272.8 L549.8 247.7 L550.6 301.0 L551.4 245.0 L552.2 272.5 L552.9 277.8 L553.7 286.6 L554.5 263.9 L555.2 281.1 L556.0 264.9 L556.8 268.7 L557.5 258.9 L558.3 282.4 L559.1 274.7 L559.9 240.2 L560.6 283.3 L561.4 281.4 L562.2 286.7 L562.9 273.9 L563.7 296.1 L564.5 266.0 L565.2 259.9 L566.0 268.2 L566.8 284.8 L567.6 286.9 L568.3 290.9 L569.1 292.9 L569.9 288.6 L570.6 283.4 L571.4 271.5 L572.2 292.4 L572.9 285.2 L573.7 281.3 L574.5 304.6 L575.3 314.3 L576.0 318.7 L576.8 345.7 L577.6 302.2 L578.3 312.3 L579.1 340.5 L579.9 299.8 L580.7 349.8 L581.4 336.3 L582.2 359.0 L583.0 225.5 L583.7 365.4 L584.5 356.3 L585.3 356.0 L586.0 341.2 L586.8 341.7 L587.6 340.1 L588.4 333.4 L589.1 375.4 L589.9 321.3 L590.7 376.6 L591.4 332.1 L592.2 379.6 L593.0 349.2 L593.7 378.3 L594.5 375.7 L595.3 348.6 L596.1 382.4 L596.8 383.9 L597.6 356.7 L598.4 391.6 L599.1 348.7 L599.9 390.8 L600.7 356.3 L601.4 378.2 L602.2 343.0 L603.0 413.7 L603.8 381.3 L604.5 340.0 L605.3 417.8" fill="none" stroke="#fd6b03" stroke-width="2.0" stroke-linejoin="round"/>
<path d="M664.2 334.0 L664.9 337.1 L665.6 355.5 L666.3 358.0 L666.7 364.7 L667.0 399.7 L667.4 410.0 L667.9 374.2 L668.3 367.6 L668.8 331.0 L669.4 345.2 L669.9 377.5 L670.5 389.0 L671.5 345.2 L672.6 339.7 L673.6 294.0 L674.0 312.3 L674.3 347.3 L674.7 363.7 L675.4 376.5 L676.1 406.8 L676.8 414.0 L677.2 409.6 L677.5 415.0 L677.9 413.0 L678.4 409.2 L678.9 422.1 L679.4 418.4 L679.9 397.0 L680.5 398.1 L681.0 377.0 L682.1 387.3 L683.1 409.2 L684.2 420.5 L684.5 401.5 L684.9 398.5 L685.2 382.6 L685.8 387.6 L686.4 403.3 L687.0 408.0 L687.8 397.7 L688.7 397.3 L689.5 384.7 L690.5 374.8 L691.6 379.7 L692.6 367.9 L692.8 350.2 L693.0 351.5 L693.2 333.0 L694.4 338.1 L695.6 361.7 L696.8 365.8 L697.5 368.7 L698.2 385.1 L698.9 389.0 L699.8 391.5 L700.6 421.5 L701.5 424.0 L702.4 401.3 L703.3 404.3 L704.2 382.6 L705.2 343.9 L706.3 329.1 L707.3 291.3 L708.0 316.6 L708.7 365.1 L709.4 393.0 L710.3 398.1 L711.3 425.4 L712.2 433.0 L713.4 400.8 L714.6 398.2 L715.8 370.0 L716.8 370.6 L717.9 394.0 L718.9 395.2 L719.8 371.2 L720.7 360.0 L721.6 334.2 L722.1 342.5 L722.6 381.0 L723.1 393.0 L724.5 389.4 L725.9 400.6 L727.3 399.4 L728.4 399.5 L729.4 407.9 L730.5 405.7 L731.3 419.0 L732.1 463.0 L732.9 481.3 L733.5 460.5 L734.1 453.6 L734.7 431.0 L735.7 421.4 L736.8 429.2 L737.8 420.5 L738.9 415.4 L739.9 417.7 L741.0 412.0 L742.1 407.8 L743.1 409.8 L744.2 405.7 L745.1 402.4 L746.1 410.9 L747.0 410.0 L747.8 412.9 L748.6 431.7 L749.4 435.2 L750.5 420.0 L751.5 420.1 L752.6 401.5 L753.3 414.0 L754.0 443.5 L754.7 452.0 L755.3 406.2 L756.0 386.1 L756.6 336.3 L757.4 344.0 L758.1 364.6 L758.9 372.0 L759.6 372.6 L760.3 395.8 L761.0 397.3 L762.0 413.7 L763.1 456.1 L764.1 467.0 L764.8 438.6 L765.5 429.5 L766.2 399.4 L767.3 397.3 L768.3 411.2 L769.4 410.0 L770.8 404.9 L772.2 410.3 L773.6 401.5 L774.7 418.9 L775.9 454.8 L777.0 471.8 L778.0 447.3 L779.0 446.2 L780.0 425.0 L780.7 412.4 L781.3 410.8 L782.0 399.4 L782.7 403.6 L783.3 418.4 L784.0 420.0 L784.7 423.0 L785.5 438.2 L786.2 439.4 L787.1 419.7 L787.9 417.5 L788.8 397.3 L789.7 396.3 L790.6 413.6 L791.5 415.0 L792.6 407.6 L793.6 414.3 L794.7 405.7 L795.5 418.4 L796.4 445.4 L797.2 458.3 L798.5 422.7 L799.7 423.7 L801.0 389.0 L801.6 409.8 L802.1 451.5 L802.7 473.0 L803.6 436.3 L804.4 436.0 L805.3 397.3 L805.8 406.3 L806.2 433.4 L806.7 437.3 L807.6 417.8 L808.6 421.4 L809.5 403.6 L810.2 402.3 L810.9 410.0 L811.6 410.0 L812.3 394.2 L813.0 394.0 L813.7 372.0 L814.4 375.5 L815.1 392.0 L815.8 393.0 L816.5 363.9 L817.3 359.1 L818.0 324.8 L818.7 334.5 L819.3 366.3 L820.0 378.4 L820.7 380.1 L821.3 392.8 L822.0 392.0 L822.7 392.4 L823.5 399.6 L824.2 399.4 L824.9 397.0 L825.6 407.1 L826.3 403.6 L827.7 381.4 L829.1 379.3 L830.5 359.5 L831.6 362.2 L832.6 385.8 L833.7 393.0 L834.4 372.8 L835.1 364.8 L835.8 342.6 L836.5 347.2 L837.2 365.1 L837.9 372.0 L838.9 368.7 L840.0 373.0 L841.0 369.0 L842.1 373.6 L843.1 394.2 L844.2 401.5 L844.9 390.1 L845.6 394.2 L846.3 380.0 L846.7 380.2 L847.1 402.0 L847.5 404.0 L848.5 386.0 L849.5 388.4 L850.5 371.0 L850.8 382.4 L851.2 405.8 L851.5 418.0 L851.9 421.5 L852.2 436.1 L852.6 435.2 L853.4 420.5 L854.2 426.2 L855.0 410.0 L855.6 417.1 L856.2 436.0 L856.8 439.4 L857.2 414.7 L857.5 413.5 L857.9 386.8 L858.9 397.3 L860.0 429.9 L861.0 435.2 L861.6 469.2 L862.1 530.7 L862.7 558.2 L863.1 520.4 L863.6 519.4 L864.0 480.0 L864.4 481.5 L864.9 502.1 L865.3 503.8 L866.0 480.4 L866.8 484.2 L867.5 460.0 L868.1 429.7 L868.8 424.4 L869.4 391.0 L870.5 372.3 L871.5 378.0 L872.6 359.5 L873.3 372.5 L874.0 410.7 L874.7 420.5 L875.4 411.3 L876.1 417.9 L876.8 410.0 L877.2 433.9 L877.7 495.6 L878.1 522.7 L878.7 460.6 L879.4 445.1 L880.0 382.6 L880.8 372.9 L881.7 374.2 L882.5 361.6 L883.0 365.7 L883.5 399.1 L884.0 404.0 L884.2 423.2 L884.5 479.4 L884.7 502.6 L885.3 457.7 L885.9 451.1 L886.5 408.0 L887.8 397.2 L889.2 401.8 L890.5 389.0 L891.6 390.2 L892.6 401.1 L893.7 399.4 L894.7 388.4 L895.8 388.4 L896.8 374.2 L898.0 347.6 L899.2 341.5 L900.4 317.0 L901.3 322.7 L902.1 350.3 L903.0 357.4 L904.0 344.2 L905.0 349.6 L906.0 334.8 L906.8 358.9 L907.6 404.0 L908.4 431.0 L909.4 405.2 L910.5 401.0 L911.5 372.0 L912.6 364.2 L913.6 365.1 L914.7 357.4 L915.4 360.6 L916.1 388.2 L916.8 393.0 L917.8 399.3 L918.9 425.5 L919.9 428.9 L920.6 409.6 L921.3 408.6 L922.0 387.0 L923.4 377.4 L924.8 378.7 L926.2 367.9 L926.9 369.3 L927.6 392.2 L928.3 393.0 L929.0 386.6 L929.7 393.5 L930.4 389.0 L931.5 388.0 L932.5 399.2 L933.6 399.4 L934.3 401.0 L935.0 412.0 L935.7 412.0 L936.5 366.9 L937.4 364.8 L938.2 319.6 L939.1 331.6 L940.1 377.0 L941.0 386.8 L941.5 388.9 L942.0 400.9 L942.5 403.6 L943.1 369.9 L943.7 360.4 L944.3 328.4 L944.6 348.3 L945.0 389.9 L945.3 407.8 L946.0 394.4 L946.7 397.4 L947.4 384.7 L948.1 386.1 L948.8 400.5 L949.5 399.4 L950.2 393.4 L950.9 401.1 L951.6 397.0 L952.3 392.6 L953.0 394.2 L953.7 390.0 L954.4 388.0 L955.1 399.8 L955.8 401.5 L956.9 395.7 L957.9 402.5 L959.0 397.3 L959.7 395.2 L960.3 402.9 L961.0 399.0 L962.1 393.7 L963.1 394.8 L964.2 389.0 L964.9 383.9 L965.6 387.4 L966.3 384.0 L967.0 360.5 L967.7 359.8 L968.4 340.5 L969.5 349.9 L970.5 370.4 L971.6 380.5 L972.3 358.0 L973.0 357.2 L973.7 336.0 L974.5 326.6 L975.4 332.0 L976.2 322.5 L976.8 329.5 L977.3 366.1 L977.9 372.0 L978.9 370.6 L980.0 381.8 L981.0 382.6 L982.1 371.7 L983.1 373.1 L984.2 363.7 L984.9 370.8 L985.6 388.6 L986.3 393.0 L987.5 382.7 L988.8 386.1 L990.0 378.4 L990.9 381.1 L991.7 394.7 L992.6 397.0 L993.7 380.1 L994.7 382.6 L995.8 366.8 L996.5 373.8 L997.2 404.0 L997.9 410.0 L998.9 411.0 L1000.0 425.6 L1001.0 424.7 L1001.7 411.6 L1002.4 414.7 L1003.1 405.7 L1004.2 393.5 L1005.2 400.2 L1006.3 389.0 L1007.3 387.3 L1008.4 392.8 L1009.4 390.0 L1010.8 392.2 L1012.2 413.4 L1013.6 414.0 L1014.7 402.0 L1015.7 404.1 L1016.8 391.0 L1017.9 389.7 L1018.9 406.6 L1020.0 405.7 L1021.0 397.0 L1022.1 403.7 L1023.1 397.0 L1024.2 386.6 L1025.2 389.7 L1026.3 381.5 L1027.3 380.2 L1028.4 394.7 L1029.4 393.0 L1030.5 385.9 L1031.5 392.4 L1032.6 385.0 L1033.6 365.5 L1034.7 364.9 L1035.7 340.5 L1036.4 343.7 L1037.1 375.2 L1037.8 378.4 L1038.8 370.7 L1039.9 376.8 L1040.9 368.0 L1042.0 370.5 L1043.0 387.3 L1044.1 386.8 L1045.2 362.8 L1046.2 362.9 L1047.3 342.6 L1047.7 339.2 L1048.0 343.1 L1048.4 338.3 L1049.1 346.1 L1049.9 376.8 L1050.6 383.0 L1052.4 341.2 L1054.3 325.5 L1056.1 288.9 L1056.6 298.8 L1057.0 334.6 L1057.5 351.0 L1057.8 337.5 L1058.2 340.2 L1058.5 330.0 L1059.0 342.6 L1059.5 377.9 L1060.0 386.8 L1060.7 388.4 L1061.3 397.8 L1062.0 399.4 L1063.1 373.5 L1064.1 372.3 L1065.2 344.7 L1065.9 346.5 L1066.6 369.4 L1067.3 372.0 L1068.3 369.5 L1069.4 383.1 L1070.4 382.6 L1071.5 382.1 L1072.5 398.6 L1073.6 402.6 L1074.3 384.4 L1075.0 381.9 L1075.7 361.6 L1076.7 322.2 L1077.8 312.2 L1078.8 267.8 L1079.5 286.9 L1080.3 341.2 L1081.0 361.6 L1081.4 357.2 L1081.7 365.4 L1082.1 362.0 L1082.7 343.0 L1083.4 339.9 L1084.0 320.4 L1084.3 321.5 L1084.7 344.2 L1085.0 345.0 L1085.4 319.4 L1085.8 315.8 L1086.2 284.7 L1086.7 265.1 L1087.2 268.9 L1087.7 252.0 L1088.3 272.3 L1088.9 322.8 L1089.5 347.4 L1090.2 290.8 L1090.9 275.1 L1091.6 219.0 L1092.1 242.7 L1092.5 298.9 L1093.0 330.0 L1093.6 267.0 L1094.1 257.5 L1094.7 201.0 L1095.8 247.2 L1096.8 348.7 L1097.9 387.3 L1098.6 354.5 L1099.3 349.0 L1100.0 316.8 L1100.3 327.2 L1100.7 361.0 L1101.0 376.8 L1101.7 365.6 L1102.4 368.5 L1103.1 357.9 L1103.8 364.5 L1104.5 403.7 L1105.2 410.5 L1106.3 395.7 L1107.3 395.0 L1108.4 379.0 L1109.1 384.3 L1109.8 400.6 L1110.5 404.2 L1111.0 370.3 L1111.5 371.4 L1112.0 336.8 L1112.6 348.2 L1113.1 380.8 L1113.7 393.6 L1114.7 367.9 L1115.8 362.0 L1116.8 332.6 L1117.5 333.4 L1118.2 352.6 L1118.9 357.9 L1119.3 299.9 L1119.6 281.8 L1120.0 234.3 L1120.8 261.8 L1121.7 312.9 L1122.5 340.0 L1123.2 314.1 L1123.9 311.5 L1124.6 288.4 L1125.2 304.2 L1125.9 344.5 L1126.5 357.9 L1127.3 323.8 L1128.0 313.4 L1128.8 272.6 L1129.4 295.8 L1129.9 341.0 L1130.5 360.0 L1131.2 343.6 L1131.9 340.1 L1132.6 324.0 L1133.2 348.3 L1133.7 408.1 L1134.3 433.6 L1134.8 400.4 L1135.3 391.4 L1135.8 357.9 L1136.8 363.6 L1137.9 385.5 L1138.9 393.6 L1139.6 381.6 L1140.3 382.8 L1141.0 368.4 L1141.7 336.2 L1142.4 332.2 L1143.1 301.0 L1143.7 305.3 L1144.4 334.0 L1145.0 340.0 L1145.8 342.8 L1146.5 365.9 L1147.3 372.6 L1148.7 364.9 L1150.1 372.2 L1151.5 364.2 L1152.2 366.5 L1152.9 389.8 L1153.6 395.7 L1154.3 374.8 L1155.0 374.9 L1155.7 349.5 L1156.7 353.8 L1157.8 373.0 L1158.8 373.0 L1159.9 371.6 L1160.9 385.2 L1162.0 387.3 L1162.6 374.3 L1163.1 375.8 L1163.7 360.0 L1164.6 363.9 L1165.4 378.2 L1166.3 383.0 L1167.3 363.9 L1168.4 366.0 L1169.4 349.5 L1170.5 360.8 L1171.5 399.4 L1172.6 416.8 L1173.6 397.8 L1174.7 397.8 L1175.7 376.8 L1176.1 392.0 L1176.4 419.9 L1176.8 433.6 L1177.5 408.1 L1178.3 410.3 L1179.0 383.0 L1180.4 372.5 L1181.7 377.1 L1183.1 370.5 L1183.8 376.4 L1184.5 402.1 L1185.2 406.3 L1185.9 374.0 L1186.6 369.8 L1187.3 335.8 L1188.4 345.2 L1189.4 366.6 L1190.5 376.8 L1191.2 384.6 L1191.9 402.2 L1192.6 410.5 L1193.6 417.6 L1194.7 445.1 L1195.7 452.5 L1195.9 461.8 L1196.1 491.3 L1196.3 503.9 L1196.9 477.2 L1197.4 466.9 L1198.0 440.0 L1198.5 443.6 L1199.0 472.9 L1199.5 475.5 L1200.0 439.8 L1200.5 434.2 L1201.0 406.3 L1201.7 411.5 L1202.4 429.7 L1203.1 430.0 L1204.1 420.6 L1205.2 425.5 L1206.2 414.7 L1207.2 414.8 L1208.3 425.5 L1209.3 425.0 L1210.0 436.2 L1210.6 470.2 L1211.3 482.1 L1211.5 442.2 L1211.8 429.3 L1212.0 395.7 L1212.5 399.9 L1213.1 426.7 L1213.6 430.0 L1214.5 406.6 L1215.4 400.3 L1216.3 374.7 L1217.2 382.5 L1218.0 414.8 L1218.9 425.2 L1219.8 431.1 L1220.6 447.9 L1221.5 454.0 L1221.7 436.7 L1221.8 434.2 L1222.0 420.0 L1222.7 419.8 L1223.3 439.7 L1224.0 440.0 L1224.3 458.6 L1224.7 517.8 L1225.0 534.6 L1225.6 473.8 L1226.2 456.8 L1226.8 399.3" fill="none" stroke="#1b4fdc" stroke-width="2.0" stroke-linejoin="round"/>
<line x1="42.5" y1="496.8" x2="606" y2="496.8" stroke="#111" stroke-width="1.5"/>
<line x1="664" y1="399.3" x2="1227" y2="399.3" stroke="#111" stroke-width="1.5"/>
<text x="43.0" y="604.1" class="yl">0.4</text>
<text x="43.0" y="556.1" class="yl">0.6</text>
<text x="43.0" y="522.0" class="yl">0.8</text>
<text x="43.0" y="495.5" class="yl">1</text>
<text x="43.0" y="413.3" class="yl">2</text>
<text x="43.0" y="331.1" class="yl">4</text>
<text x="43.0" y="283.1" class="yl">6</text>
<text x="43.0" y="249.0" class="yl">8</text>
<text x="43.0" y="222.5" class="yl">10</text>
<text x="664.6" y="604.0" class="yl">0.8</text>
<text x="664.6" y="552.5" class="yl">0.85</text>
<text x="664.6" y="501.0" class="yl">0.9</text>
<text x="664.6" y="449.5" class="yl">0.95</text>
<text x="664.6" y="346.5" class="yl">1.05</text>
<text x="664.6" y="295.0" class="yl">1.1</text>
<text x="664.6" y="243.5" class="yl">1.15</text>
<text x="664.6" y="192.0" class="yl">1.2</text>
<text x="605.2" y="185.7" class="pl">$60k</text>
<text x="605.2" y="355.1" class="pl">$20k</text>
<text x="605.2" y="496.3" class="pl">$8k</text>
<text x="605.2" y="603.2" class="pl">$4k</text>
<text x="92.6" y="620.3" class="xl">Sep '19</text>
<text x="186.6" y="620.3" class="xl">Jan '20</text>
<text x="279.8" y="620.3" class="xl">May '20</text>
<text x="373.8" y="620.3" class="xl">Sep '20</text>
<text x="468.4" y="620.3" class="xl">Jan '21</text>
<text x="561.8" y="620.3" class="xl">May '21</text>
<text x="1227.2" y="185.7" class="pl">$60k</text>
<text x="1227.2" y="355.1" class="pl">$20k</text>
<text x="1227.2" y="496.3" class="pl">$8k</text>
<text x="1227.2" y="603.2" class="pl">$4k</text>
<text x="714.6" y="620.3" class="xl">Sep '19</text>
<text x="808.6" y="620.3" class="xl">Jan '20</text>
<text x="901.8" y="620.3" class="xl">May '20</text>
<text x="995.8" y="620.3" class="xl">Sep '20</text>
<text x="1090.4" y="620.3" class="xl">Jan '21</text>
<text x="1183.8" y="620.3" class="xl">May '21</text>
<line x1="174" y1="341" x2="600" y2="341" stroke="#17916a" stroke-width="1.2" stroke-dasharray="2.2 2.2"/>
<circle cx="605.5" cy="340.5" r="5.2" fill="#dff2cf" stroke="#bfe3a5" stroke-width="1"/>
<text x="208.6" y="308.4" class="ab" font-size="20.5" fill="#17916a" stroke="#17916a" textLength="163.4" lengthAdjust="spacingAndGlyphs">LTH High = 3.73</text>
<text x="183" y="333.7" font-style="italic" font-size="21" fill="#17916a" textLength="217.4" lengthAdjust="spacingAndGlyphs">(Cost Basis = $9,276)</text>
<line x1="174" y1="417.8" x2="600" y2="417.8" stroke="#d91c1c" stroke-width="1.2" stroke-dasharray="2.2 2.2"/>
<circle cx="604.5" cy="417.5" r="4.3" fill="#fbe3e3" stroke="#efc4c4" stroke-width="1"/>
<text x="212" y="384.6" class="ab" font-size="20.5" fill="#d91c1c" stroke="#d91c1c" textLength="155.9" lengthAdjust="spacingAndGlyphs">LTH Low = 1.95</text>
<text x="177.4" y="410.5" font-style="italic" font-size="21" fill="#d91c1c" textLength="229.3" lengthAdjust="spacingAndGlyphs">(Cost Basis = $16,334)</text>
<line x1="866.6" y1="535.3" x2="1220" y2="535.3" stroke="#d91c1c" stroke-width="1.2" stroke-dasharray="2.2 2.2"/>
<circle cx="1224" cy="535.3" r="3.3" fill="#e8d9f0" stroke="#b9a8c8" stroke-width="1"/>
<text x="969.8" y="502.7" class="ab" font-size="21" fill="#d91c1c" stroke="#d91c1c" textLength="178.6" lengthAdjust="spacingAndGlyphs">STH Low = 0.866</text>
<text x="951.8" y="529" font-style="italic" font-size="21.5" fill="#d91c1c" textLength="216.5" lengthAdjust="spacingAndGlyphs">(Loss Rate of -13.4%)</text>
<text x="766.3" y="596.3" class="ab" font-size="22" fill="#d91c1c" stroke="#d91c1c" textLength="186.6" lengthAdjust="spacingAndGlyphs">Mar 2020 = 0.844</text>
<g stroke="#d91c1c" stroke-width="1.6" fill="none" stroke-linecap="round"><line x1="863.1" y1="575.5" x2="863.1" y2="560.8"/><polyline points="858.6,565.8 863.1,560.6 867.6,565.8"/></g>
<text x="24.8" y="683.3" class="foot" textLength="224.8" lengthAdjust="spacingAndGlyphs">© 2021 Glassnode. All Rights Reserved.</text>
<text x="1140.4" y="684.4" class="logo" textLength="104.3" lengthAdjust="spacingAndGlyphs">glassnode</text>
</svg>
</body></html>
